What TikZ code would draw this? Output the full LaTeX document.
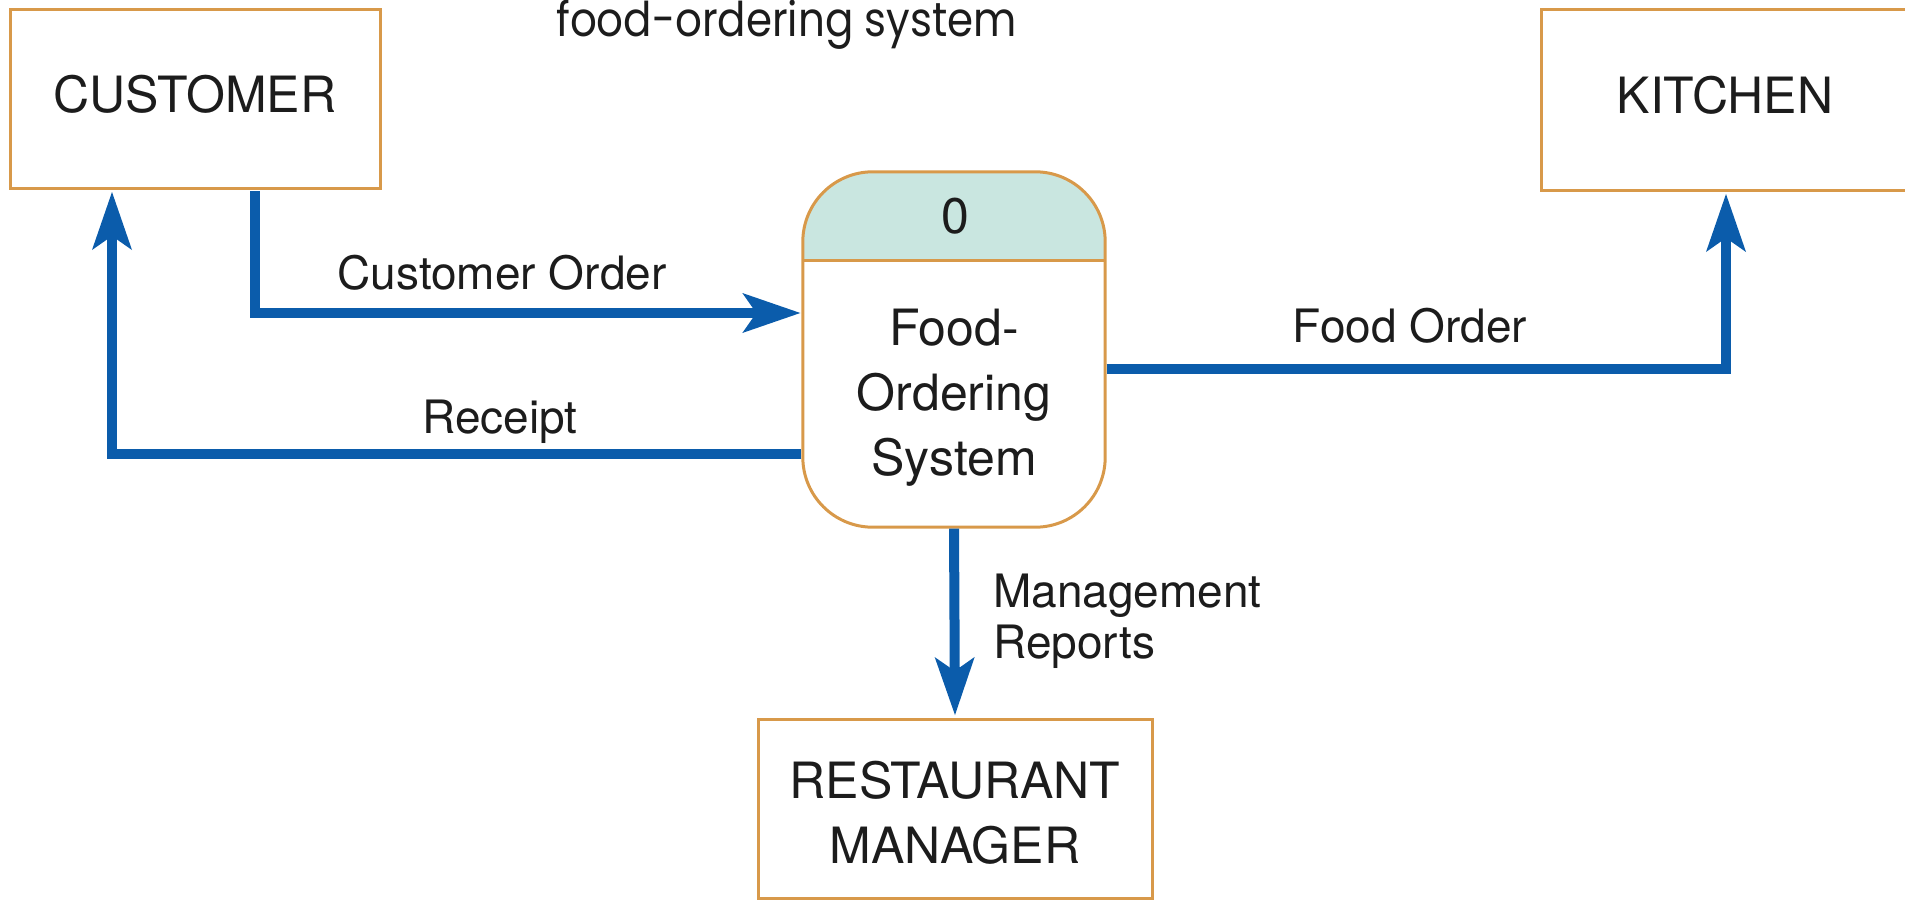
\documentclass[tikz,border=0pt]{standalone}
\usepackage{fontspec}
\setmainfont{TeX Gyre Heros}
\newfontfamily\titlefont{Poppins}
\usetikzlibrary{arrows.meta,calc}
\definecolor{boxorange}{HTML}{D8994A}
\definecolor{flowblue}{HTML}{0B5CAB}
\definecolor{procteal}{HTML}{C9E6E0}
\definecolor{inkgray}{HTML}{1C1C1C}
\begin{document}
\begin{tikzpicture}[x=1pt,y=-1pt,
  entity/.style={draw=boxorange, line width=3pt, inner sep=0pt},
  bigtext/.style={font=\fontsize{50}{65}\selectfont, text=inkgray, inner sep=0pt},
  flowlabel/.style={font=\fontsize{46}{51}\selectfont, text=inkgray, inner sep=0pt},
  flow/.style={draw=flowblue, line width=10pt,
    -{Stealth[length=58pt,width=40pt,inset=14pt,line width=0pt]},
    shorten >=2.5pt, shorten <=1.5pt}]
\useasboundingbox (0,0) rectangle (1905,899);

% title
\node[anchor=base west, inner sep=0pt, text=inkgray,
      font=\titlefont\fontsize{42}{50}\selectfont] (title) at (556,37) {\scalebox{1.0}[1.14]{food-ordering system}};

% external entities
\node[entity, minimum width=370pt, minimum height=178pt] (cust) at (195,99) {};
\node[bigtext, anchor=base] (custlbl) at (195,112) {CUSTOMER};
\node[entity, minimum width=368pt, minimum height=180pt] (kit) at (1725,100) {};
\node[bigtext, anchor=base] (kitlbl) at (1725,113) {KITCHEN};
\node[entity, minimum width=394pt, minimum height=179pt] (mgr) at (955,808.5) {};
\node[bigtext, anchor=base, align=center] (mgrlbl) at (955,863) {RESTAURANT\\MANAGER};

% process
\node[minimum width=302pt, minimum height=355pt, inner sep=0pt] (proc) at (954,349.5) {};
\coordinate (divy) at (954,260);
\fill[white, rounded corners=70pt] (proc.south west) rectangle (proc.north east);
\begin{scope}
  \clip[rounded corners=70pt] (proc.south west) rectangle (proc.north east);
  \fill[procteal] (proc.north west) rectangle (proc.east |- divy);
\end{scope}
\draw[boxorange, line width=3pt] (proc.west |- divy) -- (proc.east |- divy);
\draw[boxorange, line width=3pt, rounded corners=70pt] (proc.south west) rectangle (proc.north east);
\node[bigtext, anchor=base] (procnum) at (955,233) {0};
\node[bigtext, anchor=base, align=center] (proclbl) at (954,475) {Food-\\Ordering\\System};

% data flows
\coordinate (coBend) at (255,313);
\draw[flow] (cust.south -| coBend) |- (proc.west |- coBend);
\coordinate (reBend) at (112,454);
\draw[flow] (proc.west |- reBend) -| (cust.south -| reBend);
\coordinate (foBend) at (1726,369);
\draw[flow] (proc.east |- foBend) -| (kit.south -| foBend);
\draw[flow] (proc.south) -- (mgr.north);

% flow labels
\node[flowlabel, anchor=base] (colbl) at (502,289) {Customer Order};
\node[flowlabel, anchor=base] (relbl) at (500,433) {Receipt};
\node[flowlabel, anchor=base] (folbl) at (1410,342) {Food Order};
\node[flowlabel, anchor=base west, align=left] (mrlbl) at (993,658) {Management\\Reports};
\end{tikzpicture}
\end{document}
